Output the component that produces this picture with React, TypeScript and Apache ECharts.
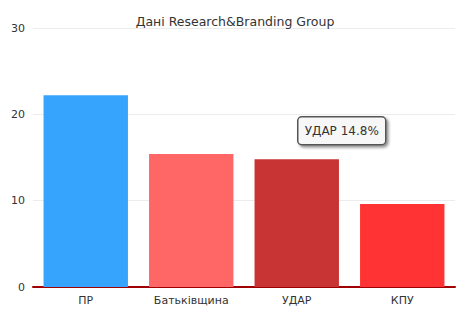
import React, { useEffect, useRef } from "react";
import * as echarts from "echarts";

const categories = ["ПР", "Батьківщина", "УДАР", "КПУ"];
const values = [22.2, 15.4, 14.8, 9.6];
const colors = ["#36a3fd", "#ff6666", "#c83434", "#ff3333"];
const yTicks = [0, 10, 20, 30];
const titleText = "Дані Research&Branding Group";
const tipText = "УДАР 14.8%";

export default function App() {
  const ref = useRef<HTMLDivElement>(null);
  useEffect(() => {
    document.body.style.margin = "0";
    const chart = echarts.init(ref.current!, null, { renderer: "svg" });
    const font = "DejaVu Sans, Verdana, sans-serif";
    chart.setOption({
      animation: false,
      title: {
        text: titleText,
        left: "center",
        top: 10,
        textStyle: { fontFamily: font, fontSize: 12.5, fontWeight: "normal", color: "#333" },
      },
      grid: { left: 33, right: 15, top: 28, bottom: 30 },
      xAxis: {
        type: "category",
        data: categories,
        axisLine: { lineStyle: { color: "#a00000", width: 2 } },
        axisTick: { alignWithLabel: true, length: 4, lineStyle: { color: "#a00000", width: 2 } },
        axisLabel: { fontFamily: font, fontSize: 11, color: "#333", margin: 8 },
      },
      yAxis: {
        type: "value",
        min: yTicks[0],
        max: yTicks[yTicks.length - 1],
        interval: 10,
        axisLine: { show: false },
        axisTick: { show: false },
        axisLabel: { fontFamily: font, fontSize: 11, color: "#333", margin: 8 },
        splitLine: { lineStyle: { color: "#ececec", width: 1 } },
      },
      series: [
        {
          type: "bar",
          barCategoryGap: "20%",
          data: values.map((v, i) => ({ value: v, itemStyle: { color: colors[i] } })),
        },
      ],
      graphic: [
        {
          type: "group",
          left: 297,
          top: 116,
          children: [
            {
              type: "rect",
              shape: { x: 0, y: 0, width: 88, height: 28, r: 4 },
              style: {
                fill: "#f7f7f7",
                stroke: "#555",
                lineWidth: 1.5,
                shadowColor: "rgba(0,0,0,0.45)",
                shadowBlur: 3,
                shadowOffsetX: 2,
                shadowOffsetY: 2,
              },
            },
            {
              type: "text",
              x: 44,
              y: 14,
              style: {
                text: tipText,
                fontFamily: font,
                fontSize: 12,
                fill: "#333",
                align: "center",
                verticalAlign: "middle",
              },
            },
          ],
        },
      ],
    });
    return () => chart.dispose();
  }, []);
  return <div ref={ref} style={{ width: 470, height: 317 }} />;
}
